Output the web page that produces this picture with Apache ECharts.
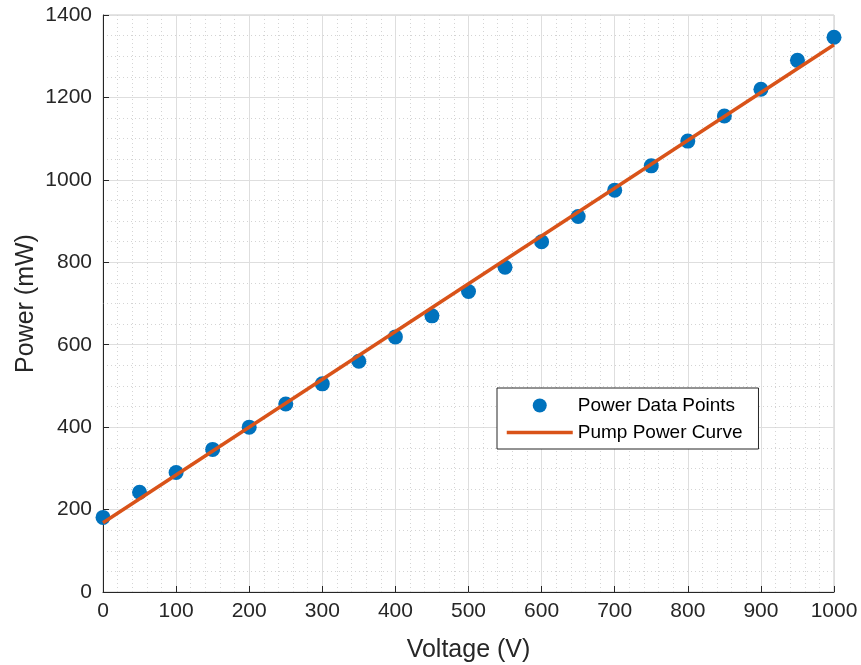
<!DOCTYPE html>
<html>
<head>
<meta charset="utf-8">
<script src="https://cdn.jsdelivr.net/npm/echarts@6/dist/echarts.min.js"></script>
<style>
  html, body { margin: 0; padding: 0; background: #ffffff; }
  #chart { width: 861px; height: 665px; }
</style>
</head>
<body>
<div id="chart"></div>
<script>
// Measured pump power versus drive voltage
const voltage = [0, 50, 100, 150, 200, 250, 300, 350, 400, 450, 500,
                 550, 600, 650, 700, 750, 800, 850, 900, 950, 1000];
const power = [181, 242, 290, 346, 400, 456, 505, 560, 619, 670, 729,
               788, 850, 911, 975, 1034, 1094, 1155, 1220, 1290, 1346];

// Fitted pump power curve (end points of the straight fit)
const curveVoltage = [0, 1000];
const curvePower = [168, 1328];

const xTicks = [0, 100, 200, 300, 400, 500, 600, 700, 800, 900, 1000];
const yTicks = [0, 200, 400, 600, 800, 1000, 1200, 1400];

const FONT = 'Liberation Sans, Arial, Helvetica, sans-serif';
const TEXT = '#262626';

const chart = echarts.init(document.getElementById('chart'), null, { renderer: 'canvas' });

const axisCommon = {
  type: 'value',
  axisLine: { show: true, lineStyle: { color: '#262626', width: 1 } },
  axisTick: { show: true, inside: true, length: 6, lineStyle: { color: '#262626' } },
  axisLabel: { color: TEXT, fontSize: 21, fontFamily: FONT, formatter: v => String(v) },
  splitLine: { show: true, lineStyle: { color: '#dedede', width: 1 } },
  minorSplitLine: { show: true, lineStyle: { color: '#d4d4d4', width: 1, type: [1, 3] } },
  nameTextStyle: { color: TEXT, fontSize: 25, fontFamily: FONT }
};

chart.setOption({
  animation: false,
  backgroundColor: '#ffffff',
  grid: {
    left: 103, right: 27, top: 15, bottom: 73,
    outerBoundsMode: 'none',
    containLabel: false,
    show: true, borderColor: '#c8c8c8', borderWidth: 1, backgroundColor: 'transparent'
  },
  xAxis: Object.assign({}, axisCommon, {
    min: xTicks[0], max: xTicks[xTicks.length - 1], interval: 100,
    minorTick: { show: false, splitNumber: 5 },
    axisLabel: Object.assign({}, axisCommon.axisLabel, { margin: 9 }),
    name: 'Voltage (V)', nameLocation: 'middle', nameGap: 46
  }),
  yAxis: Object.assign({}, axisCommon, {
    min: yTicks[0], max: yTicks[yTicks.length - 1], interval: 200,
    minorTick: { show: false, splitNumber: 4 },
    axisLabel: Object.assign({}, axisCommon.axisLabel, { margin: 11 }),
    name: 'Power (mW)', nameLocation: 'middle', nameGap: 64,
    nameMoveOverlap: false
  }),
  legend: {
    left: 497, top: 388,
    orient: 'vertical',
    backgroundColor: '#ffffff',
    borderColor: '#262626', borderWidth: 1, borderRadius: 0,
    padding: [8, 16, 7, 8],
    itemWidth: 66, itemHeight: 14, itemGap: 8,
    textStyle: { color: '#000000', fontSize: 19, fontFamily: FONT },
    data: [
      { name: 'Power Data Points', icon: 'circle' },
      { name: 'Pump Power Curve', itemStyle: { opacity: 0 }, lineStyle: { width: 3.5 } }
    ]
  },
  series: [
    {
      name: 'Pump Power Curve',
      type: 'line',
      data: curveVoltage.map((v, i) => [v, curvePower[i]]),
      showSymbol: false,
      symbol: 'none',
      lineStyle: { color: '#D95319', width: 3.5 },
      itemStyle: { color: '#D95319' },
      z: 3
    },
    {
      name: 'Power Data Points',
      type: 'scatter',
      data: voltage.map((v, i) => [v, power[i]]),
      symbol: 'circle',
      symbolSize: 15,
      itemStyle: { color: '#0072BD', opacity: 1 },
      z: 2
    }
  ]
});
</script>
</body>
</html>
